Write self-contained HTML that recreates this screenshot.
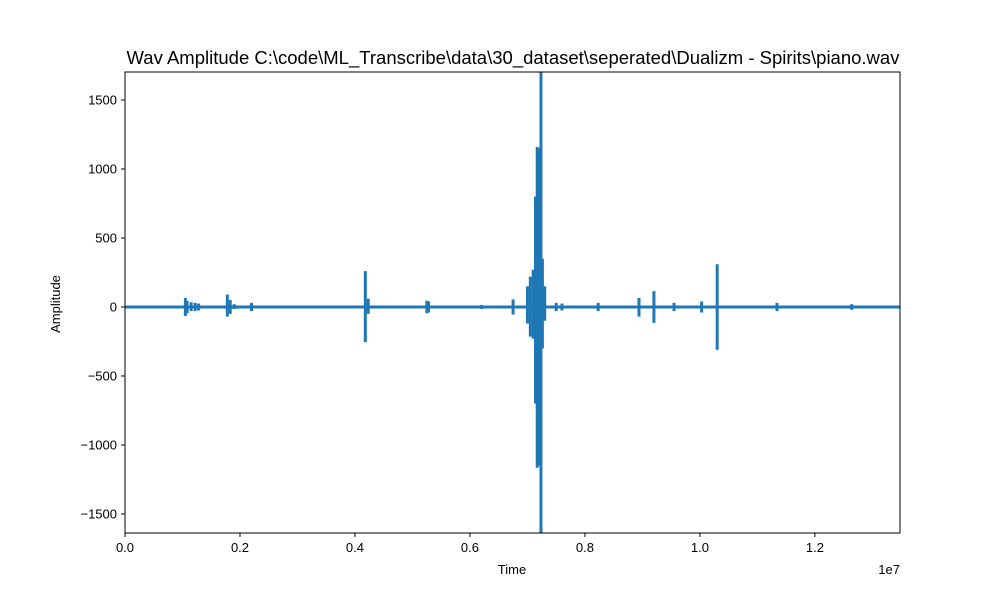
<!DOCTYPE html>
<html><head><meta charset="utf-8"><style>
body{margin:0;background:#fff;}
svg text{font-family:"Liberation Sans","DejaVu Sans",sans-serif;fill:#000;}
</style></head><body>
<svg id="c" width="1000" height="600">
<text x="513" y="64" font-size="18.5" text-anchor="middle">Wav Amplitude C:\code\ML_Transcribe\data\30_dataset\seperated\Dualizm - Spirits\piano.wav</text>
<g id="plot"></g>
<rect x="125" y="72" width="775" height="461" fill="none" stroke="#000" stroke-width="1"/>
<g id="axes"></g>
<text x="512" y="574" font-size="13" text-anchor="middle">Time</text>
<text x="900" y="574" font-size="13" text-anchor="end">1e7</text>
<text transform="translate(60,304) rotate(-90)" font-size="13" text-anchor="middle">Amplitude</text>
</svg>
<script>
const spikeTimes=[0.105,0.108,0.115,0.122,0.128,0.178,0.183,0.19,0.22,0.3,0.418,0.423,0.525,0.528,0.62,0.675,0.70,0.705,0.71,0.714,0.717,0.72,0.7235,0.726,0.73,0.75,0.76,0.823,0.894,0.92,0.955,1.003,1.03,1.134,1.264];
const spikeUpper=[65,45,35,30,25,90,50,20,30,10,260,60,45,40,15,55,150,220,270,800,1160,1150,1700,350,150,30,25,30,65,115,30,40,310,30,20];
const spikeLower=[-65,-45,-30,-30,-25,-70,-50,-15,-30,-10,-255,-50,-45,-40,-15,-55,-120,-215,-230,-700,-1165,-1150,-1640,-300,-100,-30,-25,-30,-70,-115,-30,-40,-310,-30,-20];
const xTicks=[0,0.2,0.4,0.6,0.8,1.0,1.2];
const yTicks=[-1500,-1000,-500,0,500,1000,1500];
const X0=125,X1=900,Y0=72,Y1=533,xmin=0,xmax=1.348,ymin=-1638,ymax=1703;
const sx=v=>X0+(v-xmin)/(xmax-xmin)*(X1-X0);
const sy=v=>Y1-(v-ymin)/(ymax-ymin)*(Y1-Y0);
const NS='http://www.w3.org/2000/svg';
const plot=document.getElementById('plot'),axes=document.getElementById('axes');
function mk(t,a,p){const e=document.createElementNS(NS,t);for(const k in a)e.setAttribute(k,a[k]);p.appendChild(e);return e;}
const base=mk('line',{x1:X0,x2:X1,y1:sy(0),y2:sy(0),stroke:'#1f77b4','stroke-width':3},plot);


spikeTimes.forEach((t,i)=>{
 const r=mk('rect',{x:sx(t)-1.5,y:sy(spikeUpper[i]),width:3,height:sy(spikeLower[i])-sy(spikeUpper[i]),fill:'#1f77b4'},plot);
 
 
});
xTicks.forEach(v=>{
 const x=sx(v);
 mk('line',{x1:x,x2:x,y1:Y1,y2:Y1+4,stroke:'#000'},axes);
 const t=mk('text',{x:x,y:Y1+19,'font-size':13,'text-anchor':'middle'},axes);
 t.textContent=v.toFixed(1);
 
 
});
yTicks.forEach(v=>{
 const y=sy(v);
 mk('line',{x1:X0-4,x2:X0,y1:y,y2:y,stroke:'#000'},axes);
 const t=mk('text',{x:X0-8,y:y+4.5,'font-size':13,'text-anchor':'end'},axes);
 t.textContent=v<0?'\u2212'+Math.abs(v):String(v);
 
 
});
</script>
</body></html>
